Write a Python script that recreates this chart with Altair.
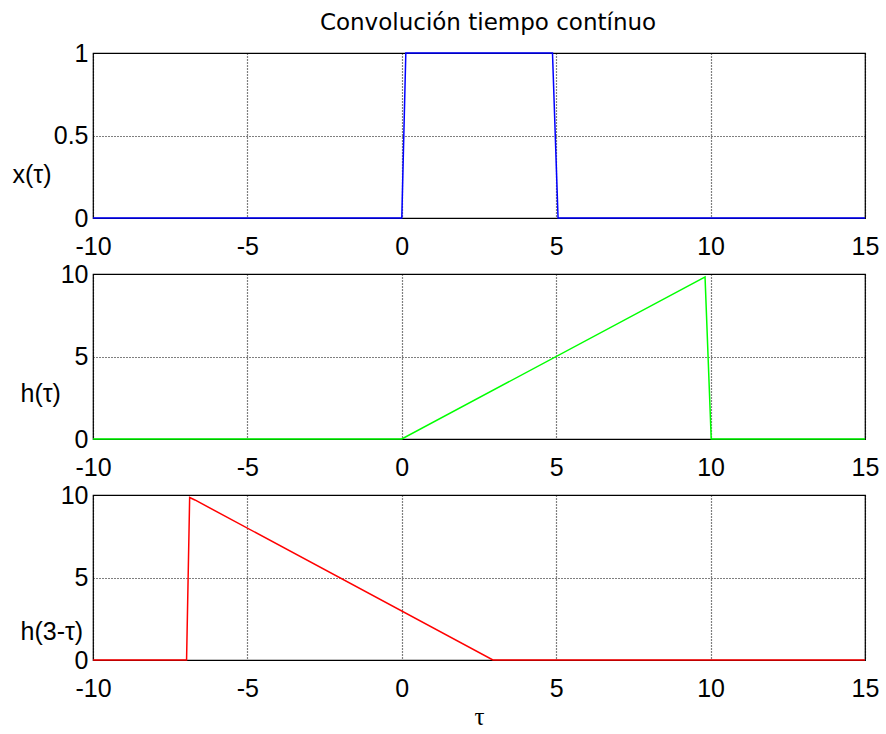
import altair as alt
import pandas as pd

# ---- data ----
tau_x = [-10, 0, 0.13, 4.88, 5.06, 15]
x_vals = [0, 0, 1, 1, 0, 0]

tau_h = [-10, 0, 9.75, 9.82, 10.02, 15]
h_vals = [0, 0, 9.75, 9.82, 0, 0]

tau_r = [-10, -6.97, -6.87, -6.7, 2.95, 15]
r_vals = [0, 0, 9.85, 9.7, 0, 0]

x_ticks = [-10, -5, 0, 5, 10, 15]
y1_ticks = [0, 0.5, 1]
y2_ticks = [0, 5, 10]

title_text = "Convolución tiempo contínuo"
ylabels = ["x(τ)", "h(τ)", "h(3-τ)"]
xlabel = "τ"

W, H = 772, 165
FONT = "Liberation Sans"


def panel(tau, vals, color, ydom, yticks, ytitle, tx, ty, xtitle=None, title=None):
    df = pd.DataFrame({"tau": tau, "v": vals})
    xkw = dict(
        values=x_ticks, labelExpr="'' + datum.value", grid=True, ticks=False,
        domain=False, labelPadding=16, labelFontSize=25, labelFont=FONT,
        labelColor="black", labelFlush=False, labelOverlap=False,
        gridColor="black", gridDash=[1, 2], gridWidth=1.2, gridOpacity=1,
    )
    if xtitle:
        xkw.update(title=xtitle, titleFont="Liberation Serif", titleFontSize=25,
                   titleFontWeight="normal", titleColor="black", titlePadding=3)
    else:
        xkw.update(title="")
    ykw = dict(
        values=yticks, labelExpr="'' + datum.value", grid=True, ticks=False,
        domain=False, labelPadding=5, labelFontSize=25, labelFont=FONT,
        labelColor="black", labelFlush=False, labelOverlap=False,
        gridColor="black", gridDash=[1, 2], gridWidth=1.2, gridOpacity=1,
        title=ytitle, titleAngle=0, titleAlign="left", titleBaseline="middle",
        titleX=tx, titleY=ty, titleFont=FONT, titleFontSize=25,
        titleFontWeight="normal", titleColor="black",
    )
    ch = alt.Chart(df).mark_line(color=color, strokeWidth=1.5, clip=False).encode(
        x=alt.X("tau:Q", scale=alt.Scale(domain=[-10, 15], nice=False, zero=False),
                axis=alt.Axis(**xkw)),
        y=alt.Y("v:Q", scale=alt.Scale(domain=ydom, nice=False, zero=False),
                axis=alt.Axis(**ykw)),
    )
    props = dict(width=W, height=H)
    if title:
        props["title"] = alt.TitleParams(
            title, font="DejaVu Sans", fontSize=23, fontWeight="normal",
            color="black", frame="group", anchor="middle", offset=6, dx=9)
    return ch.properties(**props)


p1 = panel(tau_x, x_vals, "#0000ff", [0, 1], y1_ticks, ylabels[0], -81, 121,
           title=title_text)
p2 = panel(tau_h, h_vals, "#00ff00", [0, 10], y2_ticks, ylabels[1], -73, 119)
p3 = panel(tau_r, r_vals, "#ff0000", [0, 10], y2_ticks, ylabels[2], -73, 136,
           xtitle=xlabel)

chart = alt.vconcat(p1, p2, p3, spacing=56, bounds="flush").configure(
    padding={"left": 11, "top": 11, "right": 5, "bottom": 5},
    background="white",
).configure_view(stroke="black", strokeWidth=1.2)

chart.save("out.html", embed_options={"renderer": "svg", "actions": False})
